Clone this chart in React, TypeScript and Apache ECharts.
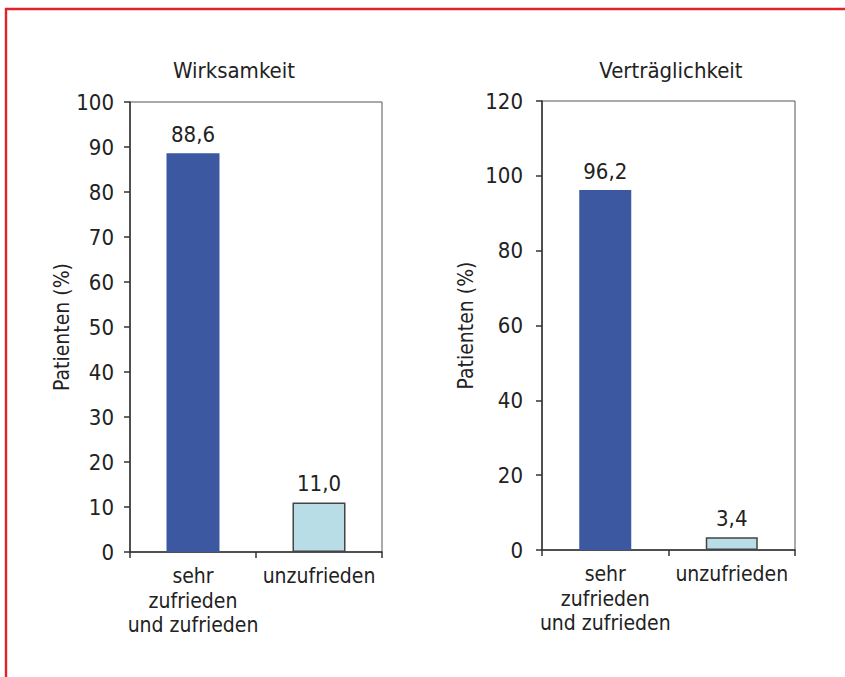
import React, { useEffect, useRef } from "react";
import * as echarts from "echarts";

const categories = ["sehr\nzufrieden\nund zufrieden", "unzufrieden"];
const wirksamkeitValues = [88.6, 11.0];
const vertraeglichkeitValues = [96.2, 3.4];
const titles = ["Wirksamkeit", "Verträglichkeit"];
const yAxisName = "Patienten (%)";

const FONT = "'Liberation Sans Narrow', 'DejaVu Sans Condensed', 'Noto Sans', sans-serif";
const TEXT = "#222";
const AXIS = "#333";
const DARK_BLUE = "#3c58a0";
const LIGHT_BLUE = "#b9dde6";

const fmt = (v: number) => v.toFixed(1).replace(".", ",");

function barData(values: number[]) {
  return values.map((v, i) =>
    i === 0
      ? { value: v, itemStyle: { color: DARK_BLUE, borderWidth: 0 } }
      : { value: v, itemStyle: { color: LIGHT_BLUE, borderColor: "#444", borderWidth: 1.5 } }
  );
}

export default function App() {
  const ref = useRef<HTMLDivElement>(null);
  useEffect(() => {
    document.body.style.margin = "0";
    const chart = echarts.init(ref.current!, null, { renderer: "svg" });
    const axisLine = { show: true, lineStyle: { color: AXIS, width: 1.5 } };
    const axisTick = { show: true, length: 6, inside: false, lineStyle: { color: AXIS, width: 1.5 } };
    const xAxisCommon = {
      type: "category" as const,
      data: categories,
      boundaryGap: true,
      axisLine,
      axisTick: { ...axisTick, alignWithLabel: false },
      axisLabel: { fontSize: 21, fontFamily: FONT, color: TEXT, lineHeight: 24.5, margin: 12, interval: 0 },
      splitLine: { show: false },
    };
    const yAxisCommon = {
      type: "value" as const,
      name: yAxisName,
      nameLocation: "middle" as const,
      nameRotate: 90,
      nameTextStyle: { fontSize: 21, fontFamily: FONT, color: TEXT },
      axisLine,
      axisTick,
      splitLine: { show: false },
    };
    const labelCommon = {
      show: true,
      position: "top" as const,
      distance: 8,
      fontSize: 22,
      fontFamily: FONT,
      color: TEXT,
      formatter: (p: any) => fmt(p.value),
    };
    chart.setOption({
      animation: false,
      backgroundColor: "#fff",
      grid: [
        { left: 130, top: 102, width: 252, height: 450, show: true, borderColor: "#555", borderWidth: 1 },
        { left: 542, top: 101, width: 253, height: 449, show: true, borderColor: "#555", borderWidth: 1 },
      ],
      xAxis: [
        { ...xAxisCommon, gridIndex: 0 },
        { ...xAxisCommon, gridIndex: 1 },
      ],
      yAxis: [
        {
          ...yAxisCommon,
          gridIndex: 0,
          min: 0,
          max: 100,
          interval: 10,
          nameGap: 54,
          axisLabel: { fontSize: 22, fontFamily: FONT, color: TEXT, margin: 16 },
        },
        {
          ...yAxisCommon,
          gridIndex: 1,
          min: 0,
          max: 120,
          interval: 20,
          nameGap: 66,
          axisLabel: { fontSize: 22, fontFamily: FONT, color: TEXT, margin: 19 },
        },
      ],
      series: [
        {
          type: "bar",
          xAxisIndex: 0,
          yAxisIndex: 0,
          barWidth: 53,
          data: barData(wirksamkeitValues),
          label: labelCommon,
        },
        {
          type: "bar",
          xAxisIndex: 1,
          yAxisIndex: 1,
          barWidth: 52,
          data: barData(vertraeglichkeitValues),
          label: labelCommon,
        },
      ],
      graphic: [
        {
          type: "line",
          shape: { x1: 5, y1: 9, x2: 845, y2: 9 },
          style: { stroke: "#e1222b", lineWidth: 2.4 },
        },
        {
          type: "line",
          shape: { x1: 6, y1: 8, x2: 6, y2: 677 },
          style: { stroke: "#e1222b", lineWidth: 2.4 },
        },
        {
          type: "text",
          x: 234,
          y: 70,
          style: {
            text: titles[0],
            fontSize: 22,
            fontFamily: FONT,
            fill: TEXT,
            align: "center",
            verticalAlign: "middle",
          },
        },
        {
          type: "text",
          x: 671,
          y: 70,
          style: {
            text: titles[1],
            fontSize: 22,
            fontFamily: FONT,
            fill: TEXT,
            align: "center",
            verticalAlign: "middle",
          },
        },
      ],
    });
    return () => chart.dispose();
  }, []);
  return <div ref={ref} style={{ width: 845, height: 677 }} />;
}
